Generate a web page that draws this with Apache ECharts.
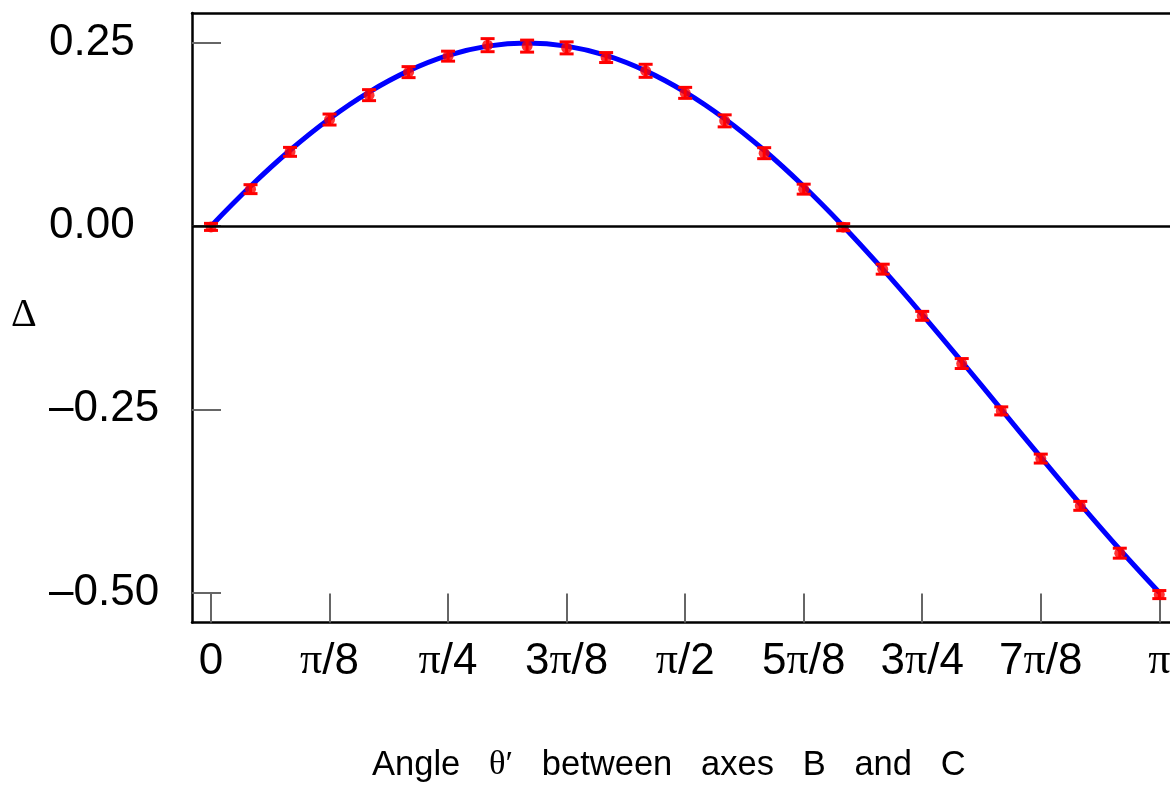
<!DOCTYPE html>
<html>
<head>
<meta charset="utf-8">
<script src="https://cdn.jsdelivr.net/npm/echarts@6/dist/echarts.min.js"></script>
<style>
  html, body { margin: 0; padding: 0; background: #fff; }
  #chart { width: 1170px; height: 792px; }
</style>
</head>
<body>
<div id="chart"></div>
<script>
// angle between axes B and C, in degrees (0 .. pi)
var thetaDeg = [0, 7.5, 15, 22.5, 30, 37.5, 45, 52.5, 60, 67.5, 75, 82.5, 90,
  97.5, 105, 112.5, 120, 127.5, 135, 142.5, 150, 157.5, 165, 172.5, 180];

// measured points (red) and their error half-widths
var deltaMeasured = [-0.001, 0.0505, 0.1014, 0.1455, 0.1788, 0.2102, 0.2320, 0.2470, 0.2457,
  0.2433, 0.2301, 0.2120, 0.1819, 0.1437, 0.0996, 0.0505, -0.0014, -0.0587, -0.1224,
  -0.1875, -0.2521, -0.3172, -0.3817, -0.4463, -0.5028];
var deltaError = [0.0048, 0.0061, 0.0061, 0.0075, 0.0075, 0.0075, 0.0068, 0.0089, 0.0082,
  0.0082, 0.0068, 0.0089, 0.0075, 0.0082, 0.0075, 0.0068, 0.0048, 0.0068, 0.0061,
  0.0068, 0.0055, 0.0061, 0.0061, 0.0068, 0.0055];

// blue curve at the same angles
var deltaCurve = [0, 0.0544, 0.1036, 0.1467, 0.1830, 0.2119, 0.2330, 0.2457, 0.25,
  0.2457, 0.2330, 0.2119, 0.1830, 0.1467, 0.1036, 0.0544, 0, -0.0587, -0.1206,
  -0.1847, -0.25, -0.3153, -0.3794, -0.4413, -0.5];

var xTickValues = [0, 22.5, 45, 67.5, 90, 112.5, 135, 157.5, 180];
var xTickLabels = ['0', 'π/8', 'π/4', '3π/8', 'π/2', '5π/8', '3π/4', '7π/8', 'π'];
var yTickValues = [-0.5, -0.25, 0, 0.25];
var yTickLabels = ['–0.50', '–0.25', '0.00', '0.25'];

var sans = '"Liberation Sans", Arial, sans-serif';
var serif = '"Liberation Serif", "Times New Roman", serif';

var chart = echarts.init(document.getElementById('chart'));

function piLabel(txt) {
  // sans digits, serif pi
  var i = txt.indexOf('π');
  if (i < 0) return '{s|' + txt + '}';
  var out = '';
  if (i > 0) out += '{s|' + txt.slice(0, i) + '}';
  out += '{p|π}';
  if (i < txt.length - 1) out += '{s|' + txt.slice(i + 1) + '}';
  return out;
}

var errData = thetaDeg.map(function (t, i) {
  return [t, deltaMeasured[i] - deltaError[i], deltaMeasured[i] + deltaError[i]];
});

var xMin = -3.607;
var xMax = 182.03;

var option = {
  animation: false,
  backgroundColor: '#fff',
  title: [
    {
      // wide word spacing as in the original figure
      text: '{s|Angle   }{g|θ′}{s|   between   axes   B   and   C}',
      left: 372,
      top: 748,
      padding: 0,
      textStyle: {
        fontWeight: 'normal',
        rich: {
          s: { fontFamily: sans, fontSize: 34.5, lineHeight: 34, fontWeight: 'normal', color: '#000' },
          g: { fontFamily: serif, fontSize: 34.5, lineHeight: 34, fontWeight: 'normal', color: '#000' }
        }
      }
    },
    {
      text: 'Δ',
      left: 11,
      top: 295,
      padding: 0,
      textStyle: { fontFamily: serif, fontSize: 40, lineHeight: 40, fontWeight: 'normal', color: '#000' }
    }
  ],
  grid: {
    left: 192,
    top: 13,
    right: 0,
    bottom: 169.5,
    show: false,
    containLabel: false,
    outerBoundsMode: 'none'
  },
  xAxis: [
    {
      type: 'value',
      min: xMin,
      max: xMax,
      axisLine: { show: true, onZero: false, lineStyle: { color: '#000', width: 2.5 } },
      axisTick: {
        show: true,
        inside: true,
        length: 29,
        customValues: xTickValues,
        lineStyle: { color: '#666', width: 2 }
      },
      axisLabel: {
        show: true,
        margin: 17,
        customValues: xTickValues,
        formatter: function (v) {
          var k = xTickValues.indexOf(v);
          return k < 0 ? '' : piLabel(xTickLabels[k]);
        },
        rich: {
          s: { fontFamily: sans, fontSize: 44, lineHeight: 44, color: '#000' },
          p: { fontFamily: serif, fontSize: 44, lineHeight: 44, color: '#000' }
        }
      },
      splitLine: { show: false }
    },
    {
      // top frame line only
      type: 'value',
      position: 'top',
      min: xMin,
      max: xMax,
      axisLine: { show: true, onZero: false, lineStyle: { color: '#000', width: 2.5 } },
      axisTick: { show: false },
      axisLabel: { show: false },
      splitLine: { show: false }
    }
  ],
  yAxis: {
    type: 'value',
    min: -0.5409,
    max: 0.2909,
    axisLine: { show: true, onZero: false, lineStyle: { color: '#000', width: 2.5 } },
    axisTick: {
      show: true,
      inside: true,
      length: 29,
      customValues: yTickValues,
      lineStyle: { color: '#666', width: 2 }
    },
    axisLabel: {
      show: true,
      margin: 143,
      align: 'left',
      customValues: yTickValues,
      fontFamily: sans,
      fontSize: 44,
      color: '#000',
      formatter: function (v) {
        var k = yTickValues.indexOf(v);
        return k < 0 ? '' : yTickLabels[k];
      }
    },
    splitLine: { show: false }
  },
  series: [
    {
      name: 'zero',
      type: 'line',
      data: [],
      z: 1,
      markLine: {
        silent: true,
        symbol: 'none',
        label: { show: false },
        lineStyle: { color: '#000', width: 2.5, type: 'solid' },
        data: [{ yAxis: 0 }]
      }
    },
    {
      name: 'curve',
      type: 'line',
      smooth: 0.4,
      showSymbol: false,
      z: 2,
      lineStyle: { color: '#0000ff', width: 5 },
      data: thetaDeg.map(function (t, i) { return [t, deltaCurve[i]]; })
    },
    {
      name: 'errors',
      type: 'custom',
      z: 3,
      encode: { x: 0, y: [1, 2] },
      data: errData,
      renderItem: function (params, api) {
        var x = api.value(0);
        var lo = api.coord([x, api.value(1)]);
        var hi = api.coord([x, api.value(2)]);
        var hw = 7;
        var st = { stroke: '#ff0000', lineWidth: 3 };
        return {
          type: 'group',
          children: [
            { type: 'line', shape: { x1: lo[0], y1: lo[1], x2: hi[0], y2: hi[1] }, style: st },
            { type: 'line', shape: { x1: lo[0] - hw, y1: lo[1], x2: lo[0] + hw, y2: lo[1] }, style: st },
            { type: 'line', shape: { x1: hi[0] - hw, y1: hi[1], x2: hi[0] + hw, y2: hi[1] }, style: st }
          ]
        };
      }
    },
    {
      name: 'measured',
      type: 'scatter',
      z: 4,
      symbol: 'circle',
      symbolSize: 11,
      itemStyle: { color: '#ff0000' },
      data: thetaDeg.map(function (t, i) { return [t, deltaMeasured[i]]; })
    }
  ]
};

chart.setOption(option);
</script>
</body>
</html>
